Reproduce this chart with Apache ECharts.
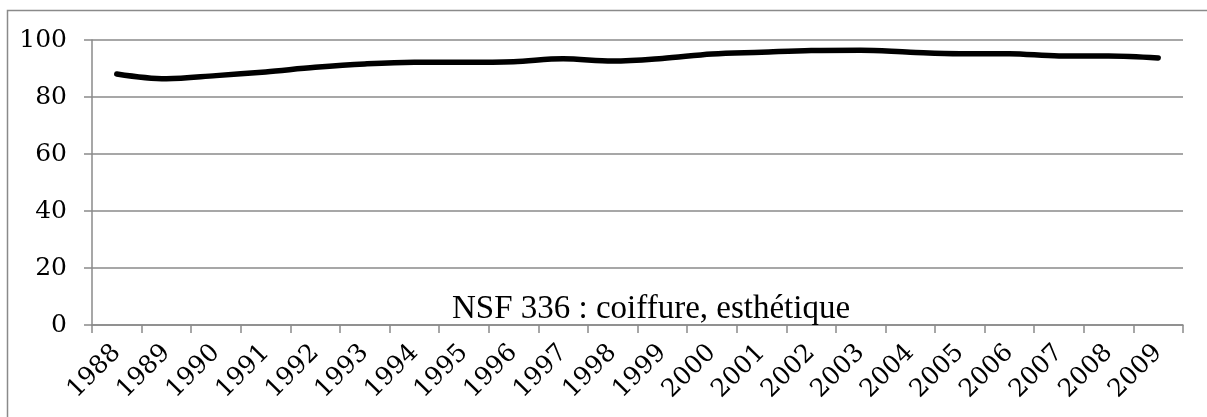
<!DOCTYPE html>
<html>
<head>
<meta charset="utf-8">
<script src="https://cdn.jsdelivr.net/npm/echarts@6/dist/echarts.min.js"></script>
<style>
  html, body { margin: 0; padding: 0; background: #fff; }
  #chart { width: 1207px; height: 417px; }
</style>
</head>
<body>
<div id="chart"></div>
<script>
const categories = ['1988','1989','1990','1991','1992','1993','1994','1995','1996','1997','1998','1999','2000','2001','2002','2003','2004','2005','2006','2007','2008','2009'];
const values = [88.1, 86.4, 87.5, 88.8, 90.4, 91.6, 92.2, 92.2, 92.4, 93.4, 92.6, 93.5, 95.1, 95.7, 96.3, 96.4, 95.7, 95.2, 95.2, 94.4, 94.4, 93.7];
const yTicks = { min: 0, max: 100, interval: 20 };
const titleText = 'NSF 336 : coiffure, esthétique';

const LABEL_FONT = 'DejaVu Serif';
const TITLE_FONT = 'Liberation Serif';
const GRAY = '#8a8a8a';

const chart = echarts.init(document.getElementById('chart'), null, { renderer: 'canvas' });
chart.setOption({
  animation: false,
  backgroundColor: '#ffffff',
  title: {
    text: titleText,
    left: 452,
    top: 293,
    textStyle: { fontFamily: TITLE_FONT, fontSize: 33, fontWeight: 'normal', color: '#000' },
    padding: 0
  },
  graphic: [{
    type: 'rect',
    shape: { x: 7.5, y: 10.5, width: 1230, height: 440 },
    style: { fill: 'none', stroke: GRAY, lineWidth: 1.5 },
    silent: true
  }],
  grid: { left: 92, right: 24, top: 40, bottom: 92, containLabel: false },
  xAxis: {
    type: 'category',
    data: categories,
    boundaryGap: true,
    axisLine: { show: true, lineStyle: { color: GRAY, width: 1.5 } },
    axisTick: { show: true, length: 8, alignWithLabel: false, lineStyle: { color: GRAY, width: 1.5 } },
    axisLabel: { rotate: 45, margin: 24, interval: 0, fontFamily: LABEL_FONT, fontSize: 25, color: '#000' },
    splitLine: { show: false }
  },
  yAxis: {
    type: 'value',
    min: yTicks.min,
    max: yTicks.max,
    interval: yTicks.interval,
    axisLine: { show: true, lineStyle: { color: GRAY, width: 1.5 } },
    axisTick: { show: true, length: 8, lineStyle: { color: GRAY, width: 1.5 } },
    axisLabel: { margin: 25, fontFamily: LABEL_FONT, fontSize: 25, color: '#000' },
    splitLine: { show: true, lineStyle: { color: GRAY, width: 1.5 } }
  },
  series: [{
    type: 'line',
    data: values,
    smooth: 0.35,
    showSymbol: false,
    lineStyle: { color: '#000', width: 5.5, cap: 'round', join: 'round' },
    itemStyle: { color: '#000' }
  }]
});
</script>
</body>
</html>
